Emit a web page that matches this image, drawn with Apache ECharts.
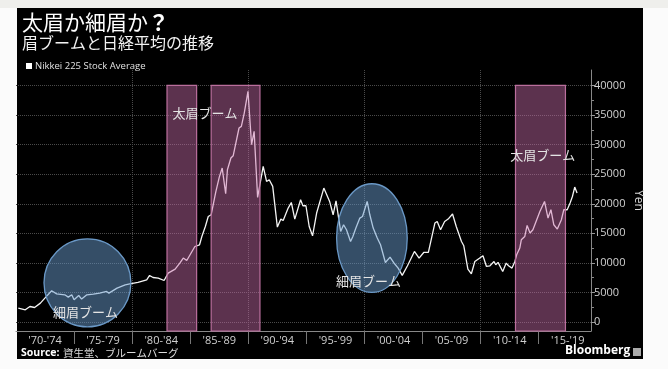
<!DOCTYPE html>
<html><head><meta charset="utf-8">
<script src="https://cdn.jsdelivr.net/npm/echarts@6/dist/echarts.min.js"></script>
<style>html,body{margin:0;padding:0;background:#fbfbfb}#c{width:668px;height:369px}</style>
</head><body><div id="c"></div><script>
// ---- data ----
const years = [1970.2,1970.8,1971.2,1971.6,1972.1,1972.6,1973.07,1973.5,1974.2,1974.5,1974.8,1975.0,1975.4,1975.65,1976.1,1976.65,1977.2,1977.8,1978.0,1978.7,1979.4,1979.8,1980.5,1981.25,1981.5,1981.8,1982.25,1982.75,1983.1,1983.7,1984.1,1984.4,1984.7,1985.4,1985.8,1986.0,1986.3,1986.55,1986.8,1987.2,1987.5,1987.75,1988.05,1988.2,1988.5,1988.7,1989.2,1989.4,1989.65,1989.97,1990.28,1990.5,1990.8,1991.28,1991.57,1991.8,1992.1,1992.5,1992.8,1993.0,1993.43,1993.7,1994.0,1994.5,1994.7,1994.96,1995.24,1995.53,1995.88,1996.5,1997.0,1997.3,1997.55,1997.95,1998.2,1998.45,1998.8,1999.0,1999.26,1999.6,1999.83,2000.23,2000.46,2000.75,2001.1,2001.38,2001.55,2001.8,2002.2,2002.5,2002.9,2003.25,2003.7,2004.3,2004.7,2005.1,2005.5,2006.06,2006.26,2006.55,2006.9,2007.2,2007.58,2007.9,2008.35,2008.55,2008.9,2009.2,2009.5,2010.2,2010.5,2010.8,2011.15,2011.3,2011.5,2011.9,2012.2,2012.4,2012.7,2012.95,2013.1,2013.37,2013.5,2013.8,2014.0,2014.25,2014.5,2015.1,2015.5,2015.8,2016.05,2016.3,2016.6,2016.95,2017.16,2017.45,2017.7,2017.9,2018.1,2018.3];
const nikkei = [2370,2080,2640,2470,3210,4300,5290,4780,4620,4230,4620,3770,4500,3890,4620,4730,4900,5180,4900,5750,6310,6470,6700,7150,7880,7540,7440,7030,8280,8960,9970,10820,10410,12780,13070,14470,16160,17850,18140,22000,24500,26040,21690,25750,27730,28120,32800,33070,35330,38990,29970,32230,21060,26300,23770,24060,22930,16060,17410,17180,19270,20220,17410,20680,19660,19660,16160,14590,18430,22650,20390,18140,20500,15320,16450,15600,13630,14470,15890,17580,17850,20390,18140,15890,14200,13070,13070,10080,10980,10080,9130,7900,9520,11940,10820,11770,11770,16740,17010,15600,17010,17410,18260,16160,13630,12900,8960,8170,10250,11210,9410,9520,10250,9700,10100,8560,9970,9520,9130,10250,11380,12510,13910,14470,16330,15050,15600,18700,20390,17580,18990,16450,15720,17300,18990,18990,20120,21230,22820,21810];
const periodLabels = ["'70-'74","'75-'79","'80-'84","'85-'89","'90-'94","'95-'99","'00-'04","'05-'09","'10-'14","'15-'19"];
const periodCenters = [1972.5,1977.5,1982.5,1987.5,1992.5,1997.5,2002.5,2007.5,2012.5,2017.5];
const periodBounds = [1975,1980,1985,1990,1995,2000,2005,2010,2015];
const decadeLines = [1980,1990,2000,2010];
const yTicks = [0,5000,10000,15000,20000,25000,30000,35000,40000];
const yMinorTicks = [2500,7500,12500,17500,22500,27500,32500,37500];
const X_MIN = 1970, X_MAX = 2019.5, Y_MIN = -1500, Y_MAX = 42600;
// thick-brow booms (shaded bands)
const boomStart = [1983.0, 1986.8, 2013.0];
const boomEnd   = [1985.55, 1991.0, 2017.3];
const boomTop   = [40000, 40000, 40000];
// thin-brow booms (ellipses)
const thinCx = [1976.15, 2000.64];
const thinCy = [6640, 14200];
const thinRx = [3.74, 3.04];
const thinRy = [7440, 9180];
// annotations
const noteText = ['太眉ブーム','太眉ブーム','細眉ブーム','細眉ブーム'];
const noteX = [1986.27, 2015.35, 1975.98, 2000.34];
const noteY = [35370, 28170, 1740, 6860];

const chart = echarts.init(document.getElementById('c'), null, {renderer:'canvas'});
const FONT = 'Open Sans';
const CJK = 'Noto Sans CJK JP';
const option = {
  backgroundColor: '#fbfbfb',
  animation: false,
  title: {
    left: 17, top: 7, itemGap: 2,
    text: '太眉か細眉か{b|？}',
    textStyle: {color:'#fff', fontSize: 21, fontWeight: 'normal', fontFamily: CJK,
      rich: {b: {color:'#fff', fontSize: 21, fontWeight:'bold', fontFamily: CJK}}},
    subtext: '眉ブームと日経平均の推移',
    subtextStyle: {color:'#f2f2f2', fontSize: 16, fontFamily: CJK}
  },
  legend: {
    left: 21, top: 56, itemWidth: 6, itemHeight: 6, icon: 'rect', itemGap: 3,
    data: [{name:'Nikkei 225 Stock Average', itemStyle:{color:'#fff'}}],
    textStyle: {color:'#e0e0e0', fontSize: 9.5, fontFamily: FONT, padding:[0,0,0,-2]}
  },
  grid: {left: 16, right: 77, top: 70, bottom: 38},
  xAxis: [{
    type:'value', min: X_MIN, max: X_MAX, position:'bottom',
    axisLine: {show:true, onZero:false, lineStyle:{color:'#888', width:1}},
    axisTick: {show:true, customValues: periodBounds, length: 13, lineStyle:{color:'#777'}},
    axisLabel: {show:true, customValues: periodCenters, color:'#d0d0d0', fontSize: 11, fontFamily: FONT, margin: 4,
      formatter: v => { const i = periodCenters.indexOf(v); return i >= 0 ? periodLabels[i] : ''; }},
    splitLine: {show:false}
  },{
    type:'value', min: X_MIN, max: X_MAX, position:'bottom',
    axisLine:{show:false}, axisLabel:{show:false},
    axisTick:{show:false, customValues: decadeLines},
    splitLine:{show:true, lineStyle:{color:'#4a4a4a', type:'dotted', width:1}}
  }],
  yAxis: [{
    type:'value', min: Y_MIN, max: Y_MAX, position:'right',
    name:'Yen', nameLocation:'middle', nameRotate:-90, nameGap: 41, nameMoveOverlap: false,
    nameTextStyle:{color:'#d8d8d8', fontSize: 12, fontFamily: FONT},
    axisLine:{show:true, lineStyle:{color:'#888'}},
    axisTick:{show:true, customValues: yTicks, length: 4, lineStyle:{color:'#999'}},
    axisLabel:{show:true, customValues: yTicks, color:'#d0d0d0', fontSize: 11, fontFamily: FONT, margin: 3,
      formatter: v => String(v)},
    splitLine:{show:true, lineStyle:{color:'#4a4a4a', type:'dotted', width:1}}
  },{
    type:'value', min: Y_MIN, max: Y_MAX, position:'right',
    axisLine:{show:false}, axisLabel:{show:false}, splitLine:{show:false},
    axisTick:{show:true, customValues: yMinorTicks, length: 3, lineStyle:{color:'#888'}}
  }],
  series: [
    {
      name:'Nikkei 225 Stock Average', type:'line', z: 2,
      data: years.map((y,i)=>[y, nikkei[i]]),
      showSymbol:false, symbol:'none',
      lineStyle:{color:'#f4f4f4', width:1.3},
      itemStyle:{color:'#fff'}
    },
    {
      type:'custom', z: 3, silent:true,
      data: boomStart.map((s,i)=>[s, boomEnd[i], boomTop[i]]),
      encode:{x:[0,1], y:2},
      renderItem: (params, api) => {
        const p0 = api.coord([api.value(0), api.value(2)]);
        const p1 = api.coord([api.value(1), Y_MIN]);
        return {type:'rect', shape:{x:p0[0], y:p0[1], width:p1[0]-p0[0], height:p1[1]-p0[1]},
          style:{fill:'rgba(205,110,172,0.45)', stroke:'#bb6f9d', lineWidth:1.2}};
      }
    },
    {
      type:'custom', z: 4, silent:true, clip:false,
      data: thinCx.map((c,i)=>[c, thinCy[i], thinRx[i], thinRy[i]]),
      encode:{x:0, y:1},
      renderItem: (params, api) => {
        const c = api.coord([api.value(0), api.value(1)]);
        const s = api.size([api.value(2), api.value(3)]);
        return {type:'ellipse', shape:{cx:c[0], cy:c[1], rx:s[0], ry:s[1]},
          style:{fill:'rgba(105,155,205,0.5)', stroke:'#6a98c6', lineWidth:1.3}};
      }
    },
    {
      type:'custom', z: 5, silent:true, clip:false,
      data: noteX.map((x,i)=>[x, noteY[i]]),
      encode:{x:0, y:1},
      renderItem: (params, api) => {
        const c = api.coord([api.value(0), api.value(1)]);
        return {type:'text', x:c[0], y:c[1],
          style:{text: noteText[params.dataIndex], fill:'#e4e4e4', fontSize: 13, fontFamily: CJK,
            align:'center', verticalAlign:'middle'}};
      }
    }
  ],
  graphic: [
    {type:'rect', z:-100, silent:true, shape:{x:0, y:0, width:668, height:8}, style:{fill:'#efefec'}},
    {type:'rect', z:-100, silent:true, shape:{x:17, y:8, width:626, height:351}, style:{fill:'#000'}},
    {type:'text', z:10, left: 21, top: 347, style:{
      text:'{a|Source:} {b|資生堂、ブルームバーグ}',
      rich:{a:{fill:'#fff', fontWeight:'bold', fontSize:10.5, fontFamily: FONT},
            b:{fill:'#dcdcdc', fontSize:10.5, fontFamily: CJK}}}},
    {type:'text', z:10, left: 565, top: 345, style:{text:'Bloomberg', fill:'#fff', fontSize: 12, fontWeight:'bold', fontFamily: FONT}},
    {type:'rect', z:10, silent:true, shape:{x:633, y:348, width:8, height:8}, style:{fill:'#aaa'}}
  ]
};
chart.setOption(option);
</script></body></html>
